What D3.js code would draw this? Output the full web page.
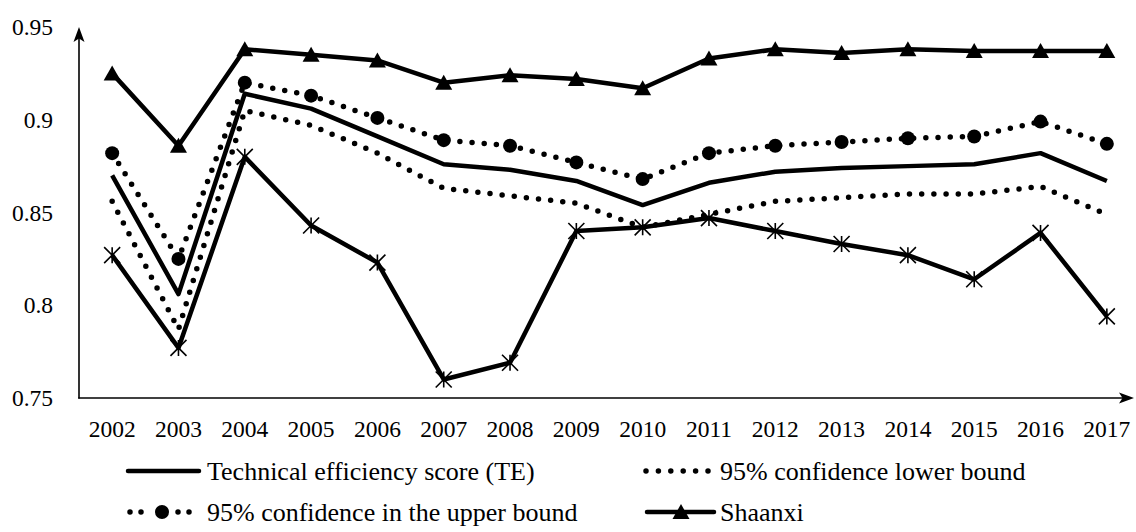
<!DOCTYPE html>
<html>
<head>
<meta charset="utf-8">
<script src="https://cdn.jsdelivr.net/npm/d3@7"></script>
<style>
  html, body { margin: 0; padding: 0; background: #fff; }
  svg { display: block; }
  text { font-family: "Liberation Serif", "Times New Roman", "DejaVu Serif", serif; fill: #000; }
</style>
</head>
<body>
<svg id="chart" width="1136" height="532"></svg>
<script>
const years = ["2002","2003","2004","2005","2006","2007","2008","2009","2010","2011","2012","2013","2014","2015","2016","2017"];
const teScore   = [0.870,0.806,0.914,0.906,0.891,0.876,0.873,0.867,0.854,0.866,0.872,0.874,0.875,0.876,0.882,0.867];
const lowerBound= [0.856,0.787,0.905,0.897,0.882,0.863,0.859,0.855,0.842,0.849,0.856,0.858,0.860,0.860,0.864,0.849];
const upperBound= [0.882,0.825,0.920,0.913,0.901,0.889,0.886,0.877,0.868,0.882,0.886,0.888,0.890,0.891,0.899,0.887];
const shaanxi   = [0.925,0.886,0.938,0.935,0.932,0.920,0.924,0.922,0.917,0.933,0.938,0.936,0.938,0.937,0.937,0.937];
const starSeries= [0.827,0.777,0.880,0.843,0.823,0.760,0.769,0.840,0.842,0.847,0.840,0.833,0.827,0.814,0.839,0.794];
const yTicks = [0.75, 0.8, 0.85, 0.9, 0.95];
const legendLabels = ["Technical efficiency score (TE)", "95% confidence lower bound", "95% confidence in the upper bound", "Shaanxi"];

const svg = d3.select("#chart");
const TICK_FONT = 23.5;
const LEG_FONT = 26;

const x = d3.scaleBand().domain(years).range([79, 1140]);
const y = d3.scaleLinear().domain([0.75, 0.95]).range([398, 27]);
const cx = d => x(d) + x.bandwidth() / 2;

// axes labels
const yAxis = d3.axisLeft(y).tickValues(yTicks).tickSize(0).tickPadding(26).tickFormat(d => String(d));
const gy = svg.append("g").attr("transform", "translate(79,0)").call(yAxis);
gy.select(".domain").remove();
gy.selectAll("text").attr("font-size", TICK_FONT);

const xAxis = d3.axisBottom(x).tickSize(0).tickPadding(22);
const gx = svg.append("g").attr("transform", "translate(0,398)").call(xAxis);
gx.select(".domain").remove();
gx.selectAll("text").attr("font-size", TICK_FONT);

// axis lines with arrows
svg.append("line").attr("x1", 79).attr("x2", 79).attr("y1", 398.5).attr("y2", 32)
  .attr("stroke", "#000").attr("stroke-width", 1.6);
svg.append("path").attr("d", "M79,27 L73.5,42 L79,38.5 L84.5,42 Z").attr("fill", "#000");
svg.append("line").attr("x1", 78.2).attr("x2", 1128).attr("y1", 398).attr("y2", 398)
  .attr("stroke", "#000").attr("stroke-width", 1.6);
svg.append("path").attr("d", "M1134,398 L1119,392.5 L1122.5,398 L1119,403.5 Z").attr("fill", "#000");

const line = d3.line().x((d, i) => cx(years[i])).y(d => y(d));

// TE
svg.append("path").datum(teScore).attr("d", line).attr("fill", "none")
  .attr("stroke", "#000").attr("stroke-width", 4.5).attr("stroke-linejoin", "round");
// lower bound dotted
svg.append("path").datum(lowerBound).attr("d", line).attr("fill", "none")
  .attr("stroke", "#000").attr("stroke-width", 5.5).attr("stroke-linecap", "round")
  .attr("stroke-dasharray", "0 12.2");
// upper bound dotted with circles
svg.append("path").datum(upperBound).attr("d", line).attr("fill", "none")
  .attr("stroke", "#000").attr("stroke-width", 5.5).attr("stroke-linecap", "round")
  .attr("stroke-dasharray", "0 12.2");
svg.append("g").selectAll("circle").data(upperBound).join("circle")
  .attr("cx", (d, i) => cx(years[i])).attr("cy", d => y(d)).attr("r", 7).attr("fill", "#000");
// Shaanxi with triangles
svg.append("path").datum(shaanxi).attr("d", line).attr("fill", "none")
  .attr("stroke", "#000").attr("stroke-width", 4.5).attr("stroke-linejoin", "round");
const tri = (px, py) => `M${px},${py - 8} L${px + 8.5},${py + 7} L${px - 8.5},${py + 7} Z`;
svg.append("g").selectAll("path").data(shaanxi).join("path")
  .attr("d", (d, i) => tri(cx(years[i]), y(d))).attr("fill", "#000");
// star series
svg.append("path").datum(starSeries).attr("d", line).attr("fill", "none")
  .attr("stroke", "#000").attr("stroke-width", 4.5).attr("stroke-linejoin", "round");
const star = (px, py) => {
  const s = 8;
  return `M${px - s},${py - s} L${px + s},${py + s} M${px - s},${py + s} L${px + s},${py - s} M${px},${py - s} L${px},${py + s}`;
};
svg.append("g").selectAll("path").data(starSeries).join("path")
  .attr("d", (d, i) => star(cx(years[i]), y(d))).attr("stroke", "#000").attr("stroke-width", 1.6).attr("fill", "none");

// legend
const legRows = [471, 512];
const leg = svg.append("g");
function legText(xp, yp, t) {
  leg.append("text").attr("x", xp).attr("y", yp).attr("dy", "0.35em").attr("font-size", LEG_FONT).text(t);
}
function dots(x1, x2, yp, gap) {
  leg.append("line").attr("x1", x1).attr("x2", x2).attr("y1", yp).attr("y2", yp)
    .attr("stroke", "#000").attr("stroke-width", 5.5).attr("stroke-linecap", "round").attr("stroke-dasharray", `0 ${gap}`);
}
// TE
leg.append("line").attr("x1", 128).attr("x2", 199).attr("y1", legRows[0]).attr("y2", legRows[0])
  .attr("stroke", "#000").attr("stroke-width", 4.5).attr("stroke-linecap", "round");
legText(207, legRows[0], legendLabels[0]);
// lower
dots(646, 708.5, legRows[0], 12.4);
legText(720, legRows[0], legendLabels[1]);
// upper
dots(130, 141.5, legRows[1], 11);
dots(178, 189.5, legRows[1], 11);
leg.append("circle").attr("cx", 162).attr("cy", legRows[1]).attr("r", 7).attr("fill", "#000");
legText(207, legRows[1], legendLabels[2]);
// Shaanxi
leg.append("line").attr("x1", 647).attr("x2", 714).attr("y1", legRows[1]).attr("y2", legRows[1])
  .attr("stroke", "#000").attr("stroke-width", 4.5).attr("stroke-linecap", "round");
leg.append("path").attr("d", tri(681, legRows[1])).attr("fill", "#000");
legText(720, legRows[1], legendLabels[3]);
</script>
</body>
</html>
